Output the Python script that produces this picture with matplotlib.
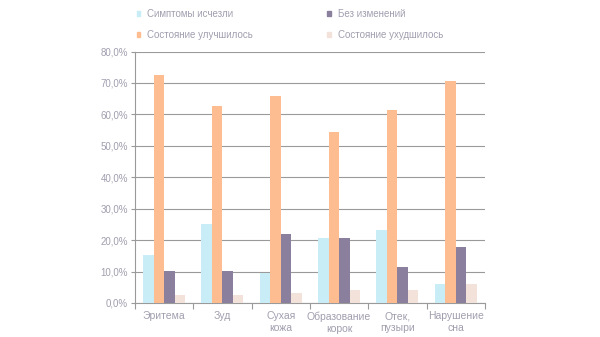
import matplotlib.pyplot as plt
import numpy as np
from matplotlib.patches import Patch
from matplotlib.ticker import FuncFormatter

categories = ['Эритема', 'Зуд', 'Сухая\nкожа', 'Образование\nкорок', 'Отек,\nпузыри', 'Нарушение\nсна']
series_names = ['Симптомы исчезли', 'Состояние улучшилось', 'Без изменений', 'Состояние ухудшилось']
gone = [15.2, 25.0, 9.4, 20.7, 23.3, 6.0]
better = [72.5, 62.6, 65.8, 54.3, 61.3, 70.7]
same = [10.1, 10.1, 21.9, 20.8, 11.6, 17.8]
worse = [2.6, 2.6, 3.2, 4.2, 4.0, 6.0]
yticks = [0, 10, 20, 30, 40, 50, 60, 70, 80]

colors = ['#c8edf6', '#fdbd90', '#8a7f9c', '#f3e2da']
text_color = '#a09eae'
plt.rcParams['font.family'] = ['Liberation Sans', 'DejaVu Sans']

fig = plt.figure(figsize=(6, 3.37), dpi=100)
ax = fig.add_axes([0.225, 0.101, 0.583, 0.746])

x = np.arange(len(categories))
w = 0.18
for i, vals in enumerate([gone, better, same, worse]):
    ax.bar(x + (i - 1.5) * w, vals, w, color=colors[i], zorder=3)

ax.set_xlim(-0.5, len(categories) - 0.5)
ax.set_ylim(0, 80)
ax.set_yticks(yticks)
ax.yaxis.set_major_formatter(FuncFormatter(lambda v, p: f'{v:.1f}%'.replace('.', ',')))
ax.yaxis.grid(True, color='#9a9a9a', linewidth=0.8, zorder=0)

ax.set_xticks(x)
ax.set_xticklabels(categories, fontsize=7.5, color=text_color, linespacing=1.25)
ax.tick_params(axis='x', which='major', length=0, pad=6)
ax.set_xticks(np.arange(len(categories) + 1) - 0.5, minor=True)
ax.tick_params(axis='x', which='minor', length=4, color='#9a9a9a', width=0.8)
ax.tick_params(axis='y', length=3, color='#9a9a9a', width=0.8, labelsize=7, labelcolor=text_color, pad=2)

for s in ['top', 'right']:
    ax.spines[s].set_visible(False)
for s in ['left', 'bottom']:
    ax.spines[s].set_color('#9a9a9a')
    ax.spines[s].set_linewidth(0.8)

# legend: small square markers, 2 columns above the plot
handles = [Patch(color=colors[i], label=series_names[i]) for i in range(4)]
leg = fig.legend(handles=handles, ncol=2, loc='upper left', bbox_to_anchor=(0.213, 1.0),
                 frameon=False, fontsize=7, handlelength=0.4, handleheight=0.4,
                 handletextpad=0.7, columnspacing=7.6, labelspacing=1.15)
for t in leg.get_texts():
    t.set_color(text_color)

fig.savefig('out.png', dpi=100)
